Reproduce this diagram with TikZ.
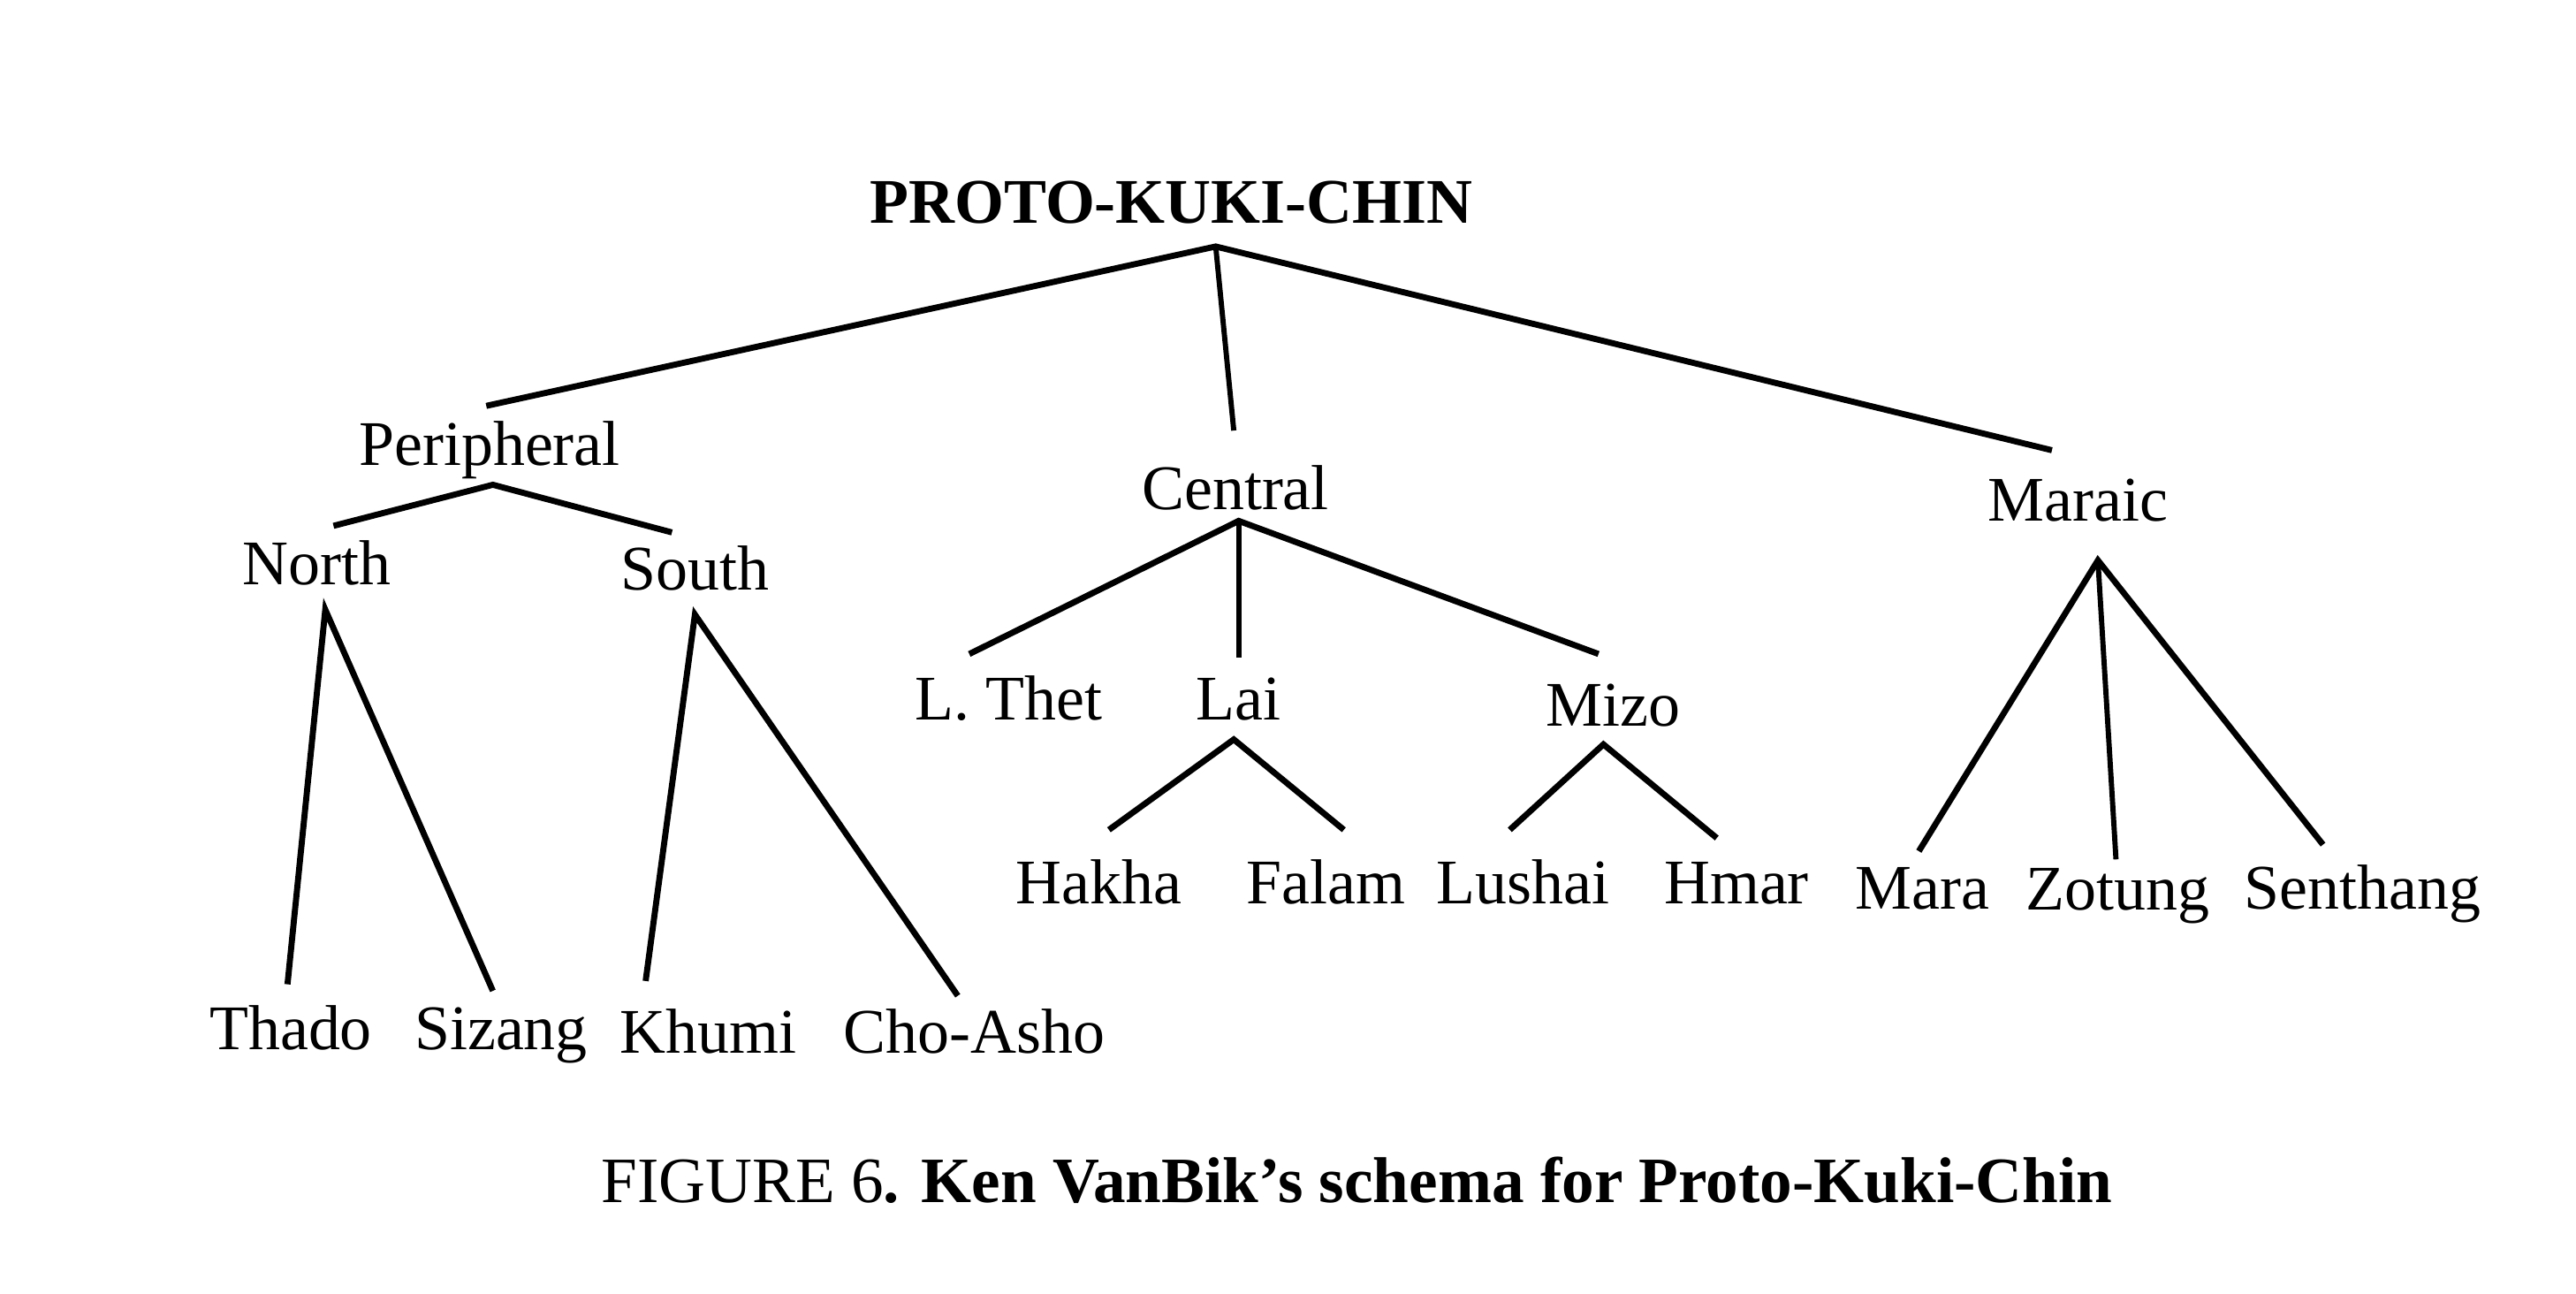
\documentclass[tikz,border=0pt]{standalone}
\usepackage{fontspec}
\setmainfont{Liberation Serif}

\begin{document}
\begin{tikzpicture}[
	x=0.01cm, y=-0.01cm,
	lang/.style = {anchor=base, inner sep=0pt, font=\fontsize{11}{13}\selectfont},
	branch/.style = {line width=1.05pt},
	stem/.style = {line width=0.9pt}
	]
	\useasboundingbox (0,0) rectangle (1568,787);

	% labels
	\node[lang,font=\fontsize{11}{13}\selectfont\bfseries] (pkc) at (713,136) {PROTO-KUKI-CHIN};

	\node[lang] (per) at (298,283) {Peripheral};
	\node[lang] (cen) at (752,310) {Central};
	\node[lang] (mar) at (1265,317) {Maraic};

	\node[lang] (nor) at (193,356) {North};
	\node[lang] (sou) at (423,359) {South};
	\node[lang] (tha) at (177,639) {Thado};
	\node[lang] (siz) at (305,639) {Sizang};
	\node[lang] (khu) at (431,641) {Khumi};
	\node[lang] (cho) at (593,641) {Cho-Asho};

	\node[lang] (lth) at (614,438) {L. Thet};
	\node[lang] (lai) at (754,438) {Lai};
	\node[lang] (miz) at (982,442) {Mizo};
	\node[lang] (hak) at (669,550) {Hakha};
	\node[lang] (fal) at (807,550) {Falam};
	\node[lang] (lus) at (927,550) {Lushai};
	\node[lang] (hma) at (1057,550) {Hmar};

	\node[lang] (mra) at (1170,553) {Mara};
	\node[lang] (zot) at (1289,554) {Zotung};
	\node[lang] (sen) at (1438,553) {Senthang};

	\node[lang,font=\fontsize{11.2}{13}\selectfont] (cap) at (826,732) {FIGURE 6\textbf{. Ken VanBik’s schema for Proto-Kuki-Chin}};

	% branch points
	\coordinate (@pkc) at (740,150);
	\coordinate (@per) at (300,295);
	\coordinate (@nor) at (198,371);
	\coordinate (@sou) at (423,374);
	\coordinate (@cen) at (754,317);
	\coordinate (@lai) at (751,450);
	\coordinate (@miz) at (976,453);
	\coordinate (@mar) at (1277,341);

	% line ends
	\coordinate (@pkc-per) at (296,247);
	\coordinate (@pkc-cen) at (751,262);
	\coordinate (@pkc-mar) at (1249,274);
	\coordinate (@per-nor) at (203,320);
	\coordinate (@per-sou) at (409,324);
	\coordinate (@nor-tha) at (175,599);
	\coordinate (@nor-siz) at (300,603);
	\coordinate (@sou-khu) at (393,597);
	\coordinate (@sou-cho) at (583,606);
	\coordinate (@cen-lth) at (590,398);
	\coordinate (@cen-lai) at (754,400);
	\coordinate (@cen-miz) at (973,398);
	\coordinate (@lai-hak) at (675,505);
	\coordinate (@lai-fal) at (818,505);
	\coordinate (@miz-lus) at (919,505);
	\coordinate (@miz-hma) at (1045,510);
	\coordinate (@mar-mra) at (1168,518);
	\coordinate (@mar-zot) at (1288,523);
	\coordinate (@mar-sen) at (1414,514);

	\draw[branch] (@pkc-per) -- (@pkc) -- (@pkc-mar);
	\draw[stem] (@pkc) -- (@pkc-cen);

	\draw[branch] (@per-nor) -- (@per) -- (@per-sou);
	\draw[branch] (@nor-tha) -- (@nor) -- (@nor-siz);
	\draw[branch] (@sou-khu) -- (@sou) -- (@sou-cho);

	\draw[branch] (@cen-lth) -- (@cen) -- (@cen-miz);
	\draw[stem] (@cen) -- (@cen-lai);
	\draw[branch] (@lai-hak) -- (@lai) -- (@lai-fal);
	\draw[branch] (@miz-lus) -- (@miz) -- (@miz-hma);

	\draw[branch] (@mar-mra) -- (@mar) -- (@mar-sen);
	\draw[stem] (@mar) -- (@mar-zot);

\end{tikzpicture}
\end{document}
